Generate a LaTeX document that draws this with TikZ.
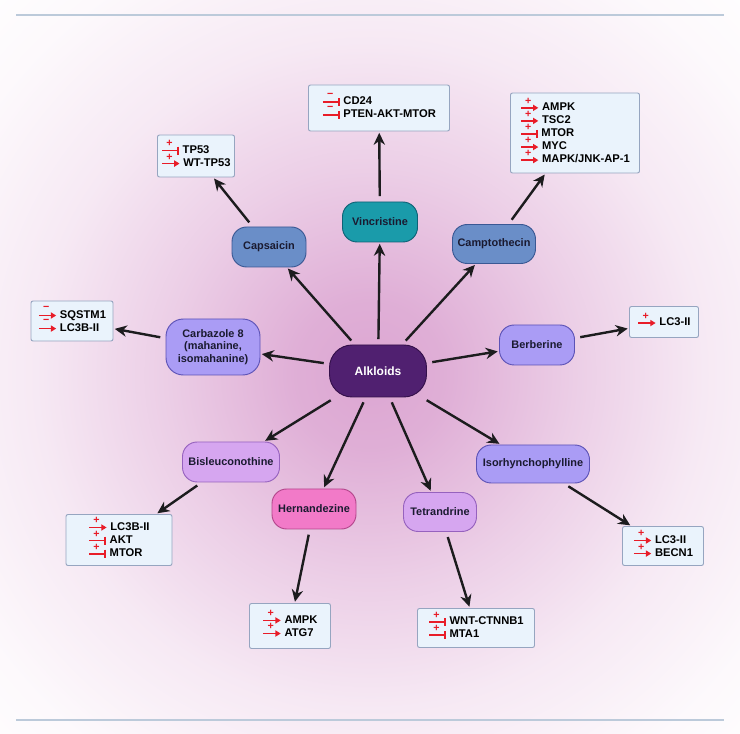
\documentclass[tikz,border=0pt]{standalone}
\usepackage{fontspec}
\setmainfont{Liberation Sans}
\usepackage{tikz}
\usetikzlibrary{positioning, shapes, arrows.meta}

\definecolor{glowA}{RGB}{220,166,210}
\definecolor{alkfill}{RGB}{80,32,112}
\definecolor{alkline}{RGB}{52,16,74}
\definecolor{lavfill}{RGB}{170,156,245}
\definecolor{lavline}{RGB}{92,82,182}
\definecolor{steelfill}{RGB}{106,142,200}
\definecolor{steelline}{RGB}{58,88,148}
\definecolor{tealfill}{RGB}{26,155,170}
\definecolor{tealline}{RGB}{14,98,118}
\definecolor{lilacfill}{RGB}{214,166,240}
\definecolor{lilacline}{RGB}{150,98,190}
\definecolor{pinkfill}{RGB}{242,122,200}
\definecolor{pinkline}{RGB}{180,70,140}
\definecolor{boxfill}{RGB}{234,243,252}
\definecolor{boxline}{RGB}{150,165,192}
\definecolor{regred}{RGB}{232,28,40}
\definecolor{arrowc}{RGB}{28,28,30}
\definecolor{rulec}{RGB}{188,202,218}
\definecolor{namec}{RGB}{26,26,48}

\pgfdeclareradialshading{glow}{\pgfpoint{0bp}{0bp}}{color(0bp)=(glowA); color(3bp)=(glowA!90!white); color(8bp)=(glowA!55!white); color(13bp)=(glowA!25!white); color(18bp)=(glowA!7!white); color(22bp)=(white); color(50bp)=(white)}

% small red sign + arrow / bar in front of a gene
\newcommand{\actv}[1]{\tikz[baseline=0pt]{\draw[line width=1.3pt, draw=regred, fill=none, -{Triangle[length=4pt,width=4.6pt]}] (0pt,2pt) -- (13pt,2pt); \node[overlay, draw=none, fill=none, inner sep=0pt, minimum width=0pt, minimum height=0pt, text=regred, font=\fontsize{8}{8}\selectfont\bfseries] at (5.5pt,7pt) {#1};}\hspace{2.2pt}}
\newcommand{\inhb}[1]{\tikz[baseline=0pt]{\draw[line width=1.3pt, draw=regred, fill=none, -{Bar[width=6pt,line width=1.3pt]}] (0pt,2pt) -- (12.5pt,2pt); \node[overlay, draw=none, fill=none, inner sep=0pt, minimum width=0pt, minimum height=0pt, text=regred, font=\fontsize{8}{8}\selectfont\bfseries] at (5.5pt,7pt) {#1};}\hspace{2.2pt}}

\tikzset{
    wh/.style 2 args={minimum width=#1*0.75pt, minimum height=#2*0.75pt},
    compound/.style={draw, line width=0.7pt, rounded corners=11pt, align=center, text=namec, inner sep=1pt,
        font=\fontsize{8.2}{9.6}\selectfont\bfseries},
    genebox/.style={draw=boxline, fill=boxfill, line width=0.7pt, rounded corners=1.5pt, align=left, text=black, inner sep=2pt,
        font=\fontsize{8.4}{9.8}\selectfont\bfseries},
    link/.style={draw=arrowc, line width=1.8pt, -{Stealth[length=9pt,width=8.5pt]}, shorten <=4pt, shorten >=1pt},
    rule/.style={draw=rulec, line width=1.1pt}
}

\begin{document}
\begin{tikzpicture}[x=0.75pt, y=-0.75pt]
    \useasboundingbox (0,0) rectangle (740,734);
    \fill[white] (0,0) rectangle (740,734);
    \begin{scope}
        \clip (0,0) rectangle (740,734);
        \shade[shading=glow] (370,375) circle (640);
    \end{scope}
    \draw[rule] (16,15) -- (724,15);
    \draw[rule] (16,720) -- (724,720);

    % center
    \node[compound, fill=alkfill, draw=alkline, text=white, wh={97}{52}, rounded corners=17pt,
        font=\fontsize{9}{10}\selectfont\bfseries] (alk) at (378,371) {Alkloids};

    % compounds
    \node[compound, fill=tealfill, draw=tealline, wh={75}{40}] (vinc) at (380,222) {Vincristine};
    \node[compound, fill=steelfill, draw=steelline, wh={74}{40}] (caps) at (269,247) {Capsaicin};
    \node[compound, fill=steelfill, draw=steelline, wh={83}{39}] (camp) at (494,244) {Camptothecin};
    \node[compound, fill=lavfill, draw=lavline, wh={94}{56}, rounded corners=13pt] (carb) at (213,347) {Carbazole 8\\(mahanine,\\isomahanine)};
    \node[compound, fill=lavfill, draw=lavline, wh={75}{40}] (berb) at (537,345) {Berberine};
    \node[compound, fill=lilacfill, draw=lilacline, wh={97}{40}] (bisl) at (231,462) {Bisleuconothine};
    \node[compound, fill=pinkfill, draw=pinkline, wh={84}{40}] (hern) at (314,509) {Hernandezine};
    \node[compound, fill=lilacfill, draw=lilacline, wh={73}{39}] (tetr) at (440,512) {Tetrandrine};
    \node[compound, fill=lavfill, draw=lavline, wh={113}{38}] (isor) at (533,464) {Isorhynchophylline};

    % gene boxes
    \node[genebox, wh={141}{46}] (bVinc) at (379,108) {\inhb{−}CD24\\\inhb{−}PTEN-AKT-MTOR};
    \node[genebox, wh={77}{42}] (bCaps) at (196,156) {\inhb{+}TP53\\\actv{+}WT-TP53};
    \node[genebox, wh={129}{80}] (bCamp) at (575,133) {\actv{+}AMPK\\\actv{+}TSC2\\\inhb{+}MTOR\\\actv{+}MYC\\\actv{+}MAPK/JNK-AP-1};
    \node[genebox, wh={82}{40}] (bCarb) at (72,321) {\actv{−}SQSTM1\\\actv{−}LC3B-II};
    \node[genebox, wh={69}{31}] (bBerb) at (664,322) {\actv{+}LC3-II};
    \node[genebox, wh={106}{51}] (bBisl) at (119,540) {\actv{+}LC3B-II\\\inhb{+}AKT\\\inhb{+}MTOR};
    \node[genebox, wh={81}{45}] (bHern) at (290,626) {\actv{+}AMPK\\\actv{+}ATG7};
    \node[genebox, wh={117}{39}] (bTetr) at (476,628) {\inhb{+}WNT-CTNNB1\\\inhb{+}MTA1};
    \node[genebox, wh={81}{39}] (bIsor) at (663,546) {\actv{+}LC3-II\\\actv{+}BECN1};

    % alkaloid -> compound
    \foreach \c in {vinc, caps, camp, carb, berb, bisl, hern, tetr, isor}
        \draw[link] (alk) -- (\c);

    % compound -> targets
    \draw[link] (vinc) -- (bVinc);
    \draw[link] (caps) -- (bCaps);
    \draw[link] (camp) -- (bCamp);
    \draw[link] (carb) -- (bCarb);
    \draw[link] (berb) -- (bBerb);
    \draw[link] (bisl) -- (bBisl);
    \draw[link] (hern) -- (bHern);
    \draw[link] (tetr) -- (bTetr);
    \draw[link] (isor) -- (bIsor);
\end{tikzpicture}
\end{document}
